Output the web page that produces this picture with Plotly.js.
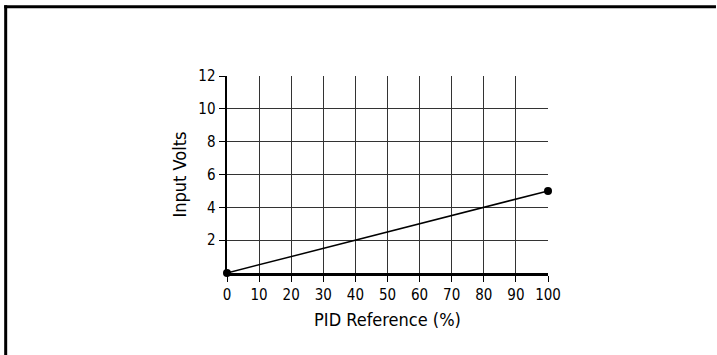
<!DOCTYPE html>
<html>
<head>
<meta charset="utf-8">
<script src="https://cdn.plot.ly/plotly-3.0.1.min.js"></script>
<style>html,body{margin:0;padding:0;background:#fff;}#chart{width:717px;height:355px;}</style>
</head>
<body>
<div id="chart"></div>
<script>
var pidRef = [0, 100];
var inputVolts = [0, 5];
var xTickVals = [0, 10, 20, 30, 40, 50, 60, 70, 80, 90, 100];
var xTickText = ['0', '10', '20', '30', '40', '50', '60', '70', '80', '90', '100'];
var yTickVals = [2, 4, 6, 8, 10, 12];
var yTickText = ['2', '4', '6', '8', '10', '12'];

var FONT = '"DejaVu Sans Condensed", "Liberation Sans Narrow", "Arial Narrow", "Liberation Sans", Arial, sans-serif';
var L = 226.5, R = 548.5, T = 75.7, B = 272.7;
var W = 717, H = 355;
function px(x) { return (x - L) / (R - L); }
function py(y) { return (B - y) / (B - T); }

var trace = {
  x: pidRef, y: inputVolts, type: 'scatter', mode: 'lines+markers',
  line: {color: '#000', width: 1.5},
  marker: {color: '#000', size: 8},
  cliponaxis: false, hoverinfo: 'skip'
};

var layout = {
  width: W, height: H,
  margin: {l: L, r: W - R, t: T, b: H - B, pad: 0},
  paper_bgcolor: '#fff', plot_bgcolor: '#fff',
  showlegend: false,
  font: {family: FONT, color: '#000', size: 15},
  xaxis: {
    range: [0, 100], tickvals: xTickVals, ticktext: xTickText,
    showgrid: true, gridcolor: '#333', gridwidth: 1,
    zeroline: false, showline: true, linecolor: '#000', linewidth: 3,
    ticks: 'outside', ticklen: 6, tickwidth: 1, tickcolor: '#000',
    tickfont: {family: FONT, size: 15, color: '#000'},
    title: {text: 'PID Reference (%)', font: {family: FONT, size: 18, color: '#000'}, standoff: 11},
    fixedrange: true
  },
  yaxis: {
    range: [0, 12], tickvals: yTickVals, ticktext: yTickText,
    showgrid: true, gridcolor: '#333', gridwidth: 1,
    zeroline: false, showline: true, linecolor: '#000', linewidth: 2.5,
    ticks: 'outside', ticklen: 6, tickwidth: 1, tickcolor: '#000',
    tickfont: {family: FONT, size: 15, color: '#000'},
    title: {text: 'Input Volts', font: {family: FONT, size: 18, color: '#000'}, standoff: 7},
    fixedrange: true
  },
  shapes: [
    {type: 'line', xref: 'paper', yref: 'paper', x0: px(3), x1: px(717), y0: py(6.5), y1: py(6.5), line: {color: '#000', width: 3}},
    {type: 'line', xref: 'paper', yref: 'paper', x0: px(4.5), x1: px(4.5), y0: py(5), y1: py(355), line: {color: '#000', width: 3}}
  ]
};

Plotly.newPlot('chart', [trace], layout, {displayModeBar: false, staticPlot: true});
</script>
</body>
</html>
